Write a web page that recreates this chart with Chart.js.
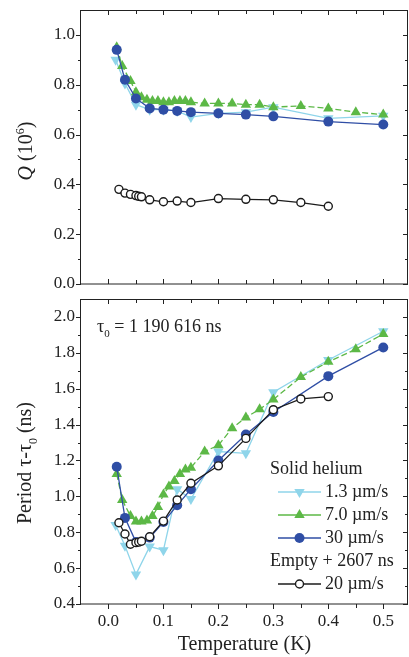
<!DOCTYPE html>
<html>
<head>
<meta charset="utf-8">
<script src="https://cdn.jsdelivr.net/npm/chart.js@4.4.1/dist/chart.umd.min.js"></script>
<style>
  html, body { margin: 0; padding: 0; background: #fff; }
  #wrap { position: relative; width: 409px; height: 657px; }
  #qChart { position: absolute; left: 0; top: 0; }
  #tauChart { position: absolute; left: 0; top: 292px; }
</style>
</head>
<body>
<div id="wrap">
  <canvas id="qChart" width="409" height="292"></canvas>
  <canvas id="tauChart" width="409" height="365"></canvas>
</div>
<script>
// temperatures (K) for each run
const tCyan  = [0.013, 0.03, 0.05, 0.075, 0.1, 0.125, 0.15, 0.2, 0.25, 0.3, 0.4, 0.5];
const tGreen = [0.015, 0.025, 0.04, 0.05, 0.06, 0.07, 0.08, 0.09, 0.1, 0.11, 0.12, 0.13, 0.14, 0.15,
                0.175, 0.2, 0.225, 0.25, 0.275, 0.3, 0.35, 0.4, 0.45, 0.5];
const tBlue  = [0.015, 0.03, 0.05, 0.075, 0.1, 0.125, 0.15, 0.2, 0.25, 0.3, 0.4, 0.5];
const tEmpty = [0.019, 0.03, 0.04, 0.05, 0.055, 0.06, 0.075, 0.1, 0.125, 0.15, 0.2, 0.25, 0.3, 0.35, 0.4];

// Q (10^6)
const qCyan  = [0.90, 0.805, 0.72, 0.70, 0.70, 0.695, 0.67, 0.685, 0.69, 0.71, 0.665, 0.675];
const qGreen = [0.95, 0.875, 0.815, 0.77, 0.75, 0.74, 0.735, 0.735, 0.73, 0.73, 0.735, 0.735, 0.735, 0.73,
                0.725, 0.725, 0.725, 0.72, 0.72, 0.71, 0.715, 0.705, 0.69, 0.68];
const qBlue  = [0.94, 0.82, 0.745, 0.705, 0.70, 0.695, 0.69, 0.685, 0.68, 0.673, 0.652, 0.64];
const qEmpty = [0.38, 0.365, 0.36, 0.355, 0.352, 0.35, 0.338, 0.33, 0.333, 0.327, 0.343, 0.34, 0.338, 0.327, 0.312];

// period tau - tau0 (ns)
const pCyan  = [0.84, 0.725, 0.565, 0.72, 0.70, 1.04, 0.985, 1.25, 1.24, 1.58, 1.76, 1.92];
const pGreen = [1.125, 0.98, 0.89, 0.86, 0.86, 0.865, 0.89, 0.94, 1.01, 1.055, 1.085, 1.125, 1.15, 1.16,
                1.25, 1.285, 1.38, 1.44, 1.485, 1.54, 1.665, 1.75, 1.82, 1.905];
const pBlue  = [1.165, 0.88, 0.745, 0.77, 0.857, 0.95, 1.04, 1.2, 1.345, 1.47, 1.67, 1.83];
const pEmpty = [0.853, 0.79, 0.733, 0.742, 0.745, 0.75, 0.775, 0.862, 0.98, 1.073, 1.17, 1.323, 1.483, 1.543, 1.556];

const xTicks   = [0, 0.1, 0.2, 0.3, 0.4, 0.5];
const qTicks   = [0, 0.2, 0.4, 0.6, 0.8, 1.0];
const tauTicks = [0.4, 0.6, 0.8, 1.0, 1.2, 1.4, 1.6, 1.8, 2.0];

const legendNames = ['1.3 \u00b5m/s', '7.0 \u00b5m/s', '30 \u00b5m/s', '20 \u00b5m/s'];

const INK = '#222';
const CYAN = '#8fd5ea', GREEN = '#5cb846', BLUE = '#2f4ea5', BLACK = '#1b1b1b';
const SERIF = '"Liberation Serif", "Times New Roman", serif';

Chart.defaults.font.family = SERIF;
Chart.defaults.color = INK;

const styles = {
  empty: { borderColor: BLACK, backgroundColor: '#fff', pointBackgroundColor: '#fff', pointStyle: 'circle',
           pointRadius: 4, pointBorderWidth: 1.4, borderWidth: 1.3 },
  blue:  { borderColor: BLUE, backgroundColor: BLUE, pointBackgroundColor: BLUE, pointStyle: 'circle',
           pointRadius: 5, pointBorderWidth: 0, borderWidth: 1.3 },
  green: { borderColor: GREEN, backgroundColor: GREEN, pointBackgroundColor: GREEN, pointStyle: 'triangle',
           pointRadius: 6, pointBorderWidth: 0, borderWidth: 1.3, borderDash: [6, 3] },
  cyan:  { borderColor: CYAN, backgroundColor: CYAN, pointBackgroundColor: CYAN, pointStyle: 'triangle',
           pointRotation: 180, pointRadius: 6, pointBorderWidth: 0, borderWidth: 1.3 }
};

function series(xs, ys, st) {
  return Object.assign({ data: xs.map((x, i) => ({ x: x, y: ys[i] })), showLine: true, tension: 0 }, st);
}

// text with italic / sub / superscript pieces, y is the baseline
function drawRich(ctx, runs, x, y, size, align) {
  const fontFor = k => (k === 'i' ? 'italic ' : '') +
    ((k === 'sub' || k === 'sup') ? Math.round(size * 0.62) : size) + 'px ' + SERIF;
  let w = 0;
  runs.forEach(([t, k]) => { ctx.font = fontFor(k); w += ctx.measureText(t).width; });
  let cx = align === 'center' ? x - w / 2 : x;
  ctx.textAlign = 'left';
  ctx.textBaseline = 'alphabetic';
  runs.forEach(([t, k]) => {
    ctx.font = fontFor(k);
    const dy = k === 'sub' ? size * 0.3 : k === 'sup' ? -size * 0.42 : 0;
    ctx.fillText(t, cx, y + dy);
    cx += ctx.measureText(t).width;
  });
}

function marker(ctx, style, x, y) {
  const r = style.pointRadius;
  ctx.beginPath();
  if (style.pointStyle === 'circle') {
    ctx.arc(x, y, r, 0, Math.PI * 2);
  } else {
    const s = style.pointRotation === 180 ? -1 : 1;
    ctx.moveTo(x, y - s * r);
    ctx.lineTo(x + r * 0.866, y + s * r * 0.5);
    ctx.lineTo(x - r * 0.866, y + s * r * 0.5);
    ctx.closePath();
  }
  ctx.fillStyle = style.pointBackgroundColor;
  ctx.fill();
  if (style.pointBorderWidth > 0) {
    ctx.lineWidth = style.pointBorderWidth;
    ctx.strokeStyle = style.borderColor;
    ctx.stroke();
  }
}

// box around the plot with minor/major ticks on all four sides
const framePlugin = {
  id: 'frame',
  afterDatasetsDraw(chart, args, opts) {
    const { ctx, chartArea: a, scales } = chart;
    const sx = scales.x, sy = scales.y;
    ctx.save();
    ctx.strokeStyle = INK;
    ctx.lineWidth = 1;
    ctx.setLineDash([]);
    ctx.strokeRect(a.left - 0.5, a.top + 0.5, a.right - a.left, a.bottom - a.top - 0.5);
    ctx.beginPath();
    const seg = (x1, y1, x2, y2) => { ctx.moveTo(x1, y1); ctx.lineTo(x2, y2); };
    xTicks.forEach((v, i) => {
      const marks = [[v, 5]];
      if (i < xTicks.length - 1) marks.push([(v + xTicks[i + 1]) / 2, 4]);
      marks.forEach(([m, len]) => {
        const px = Math.round(sx.getPixelForValue(m)) + 0.5;
        seg(px, a.top, px, a.top + len);
        if (opts.bottomOut) seg(px, a.bottom, px, a.bottom + len);
        else seg(px, a.bottom, px, a.bottom - len);
      });
    });
    const yt = opts.yTicks;
    yt.forEach((v, i) => {
      const marks = [[v, 5]];
      if (i < yt.length - 1) marks.push([(v + yt[i + 1]) / 2, 3]);
      marks.forEach(([m, len]) => {
        const py = Math.round(sy.getPixelForValue(m)) + 0.5;
        seg(a.left, py, a.left - len, py);
        seg(a.right, py, a.right - len, py);
      });
    });
    ctx.stroke();
    ctx.restore();
  }
};

const qLabels = {
  id: 'qLabels',
  afterDraw(chart) {
    const ctx = chart.ctx;
    ctx.save();
    ctx.fillStyle = INK;
    ctx.translate(25, 151);
    ctx.rotate(-Math.PI / 2);
    drawRich(ctx, [['Q', 'i'], [' (10', ''], ['6', 'sup'], [')', '']], 0, 7, 20, 'center');
    ctx.restore();
  }
};

const tauLabels = {
  id: 'tauLabels',
  afterDraw(chart) {
    const ctx = chart.ctx;
    ctx.save();
    ctx.fillStyle = INK;
    drawRich(ctx, [['\u03c4', ''], ['0', 'sub'], [' = 1 190 616 ns', '']], 97, 40, 18, 'left');

    ctx.save();
    ctx.translate(24, 171);
    ctx.rotate(-Math.PI / 2);
    drawRich(ctx, [['Period \u03c4-\u03c4', ''], ['0', 'sub'], [' (ns)', '']], 0, 7, 20, 'center');
    ctx.restore();

    // legend: two groups with headers
    const rows = [
      { head: 'Solid helium', y: 177 },
      { style: styles.cyan, name: legendNames[0], y: 200 },
      { style: styles.green, name: legendNames[1], y: 223 },
      { style: styles.blue, name: legendNames[2], y: 246 },
      { head: 'Empty + 2607 ns', y: 269 },
      { style: styles.empty, name: legendNames[3], y: 292 }
    ];
    ctx.font = '18px ' + SERIF;
    ctx.textBaseline = 'middle';
    ctx.textAlign = 'left';
    rows.forEach(r => {
      if (r.head) {
        ctx.fillStyle = INK;
        ctx.fillText(r.head, 270, r.y);
        return;
      }
      ctx.strokeStyle = r.style.borderColor;
      ctx.lineWidth = 1.3;
      ctx.beginPath();
      ctx.moveTo(278, r.y);
      ctx.lineTo(321, r.y);
      ctx.stroke();
      marker(ctx, r.style, 299.5, r.y);
      ctx.fillStyle = INK;
      ctx.font = '18px ' + SERIF;
      ctx.textBaseline = 'middle';
      ctx.fillText(r.name, 325, r.y);
    });
    ctx.restore();
  }
};

function xScale(showLabels, height) {
  return {
    type: 'linear',
    min: -0.05,
    max: 0.545,
    afterBuildTicks: s => { s.ticks = xTicks.map(v => ({ value: v })); },
    afterFit: s => { s.height = height; s.paddingLeft = 0; s.paddingRight = 0; },
    grid: { display: false, drawTicks: false },
    border: { display: false },
    ticks: { display: showLabels, padding: 7, font: { size: 17 }, color: INK,
             callback: v => Number(v).toFixed(1) },
    title: { display: showLabels, text: 'Temperature (K)', font: { size: 20 }, color: INK,
             padding: { top: 0, bottom: 0 } }
  };
}

function yScale(min, max, ticks) {
  return {
    type: 'linear',
    min: min,
    max: max,
    afterBuildTicks: s => { s.ticks = ticks.map(v => ({ value: v })); },
    afterFit: s => { s.width = 81; s.paddingTop = 0; s.paddingBottom = 0; },
    grid: { display: false, drawTicks: false },
    border: { display: false },
    ticks: { padding: 6, font: { size: 17 }, color: INK, callback: v => Number(v).toFixed(1) }
  };
}

const baseOptions = {
  responsive: false,
  animation: false,
  events: [],
  plugins: { legend: { display: false }, tooltip: { enabled: false } }
};

new Chart(document.getElementById('qChart').getContext('2d'), {
  type: 'scatter',
  data: {
    datasets: [
      series(tEmpty, qEmpty, styles.empty),
      series(tBlue, qBlue, styles.blue),
      series(tGreen, qGreen, styles.green),
      series(tCyan, qCyan, styles.cyan)
    ]
  },
  options: Object.assign({}, baseOptions, {
    layout: { autoPadding: false, padding: { top: 10, right: 1, bottom: 0, left: 0 } },
    scales: { x: xScale(false, 8), y: yScale(0, 1.1, qTicks) },
    plugins: Object.assign({}, baseOptions.plugins, { frame: { bottomOut: false, yTicks: qTicks } })
  }),
  plugins: [framePlugin, qLabels]
});

new Chart(document.getElementById('tauChart').getContext('2d'), {
  type: 'scatter',
  data: {
    datasets: [
      series(tEmpty, pEmpty, styles.empty),
      series(tBlue, pBlue, styles.blue),
      series(tGreen, pGreen, styles.green),
      series(tCyan, pCyan, styles.cyan)
    ]
  },
  options: Object.assign({}, baseOptions, {
    layout: { autoPadding: false, padding: { top: 7, right: 1, bottom: 0, left: 0 } },
    scales: { x: xScale(true, 53), y: yScale(0.4, 2.1, tauTicks) },
    plugins: Object.assign({}, baseOptions.plugins, { frame: { bottomOut: true, yTicks: tauTicks } })
  }),
  plugins: [framePlugin, tauLabels]
});
</script>
</body>
</html>
